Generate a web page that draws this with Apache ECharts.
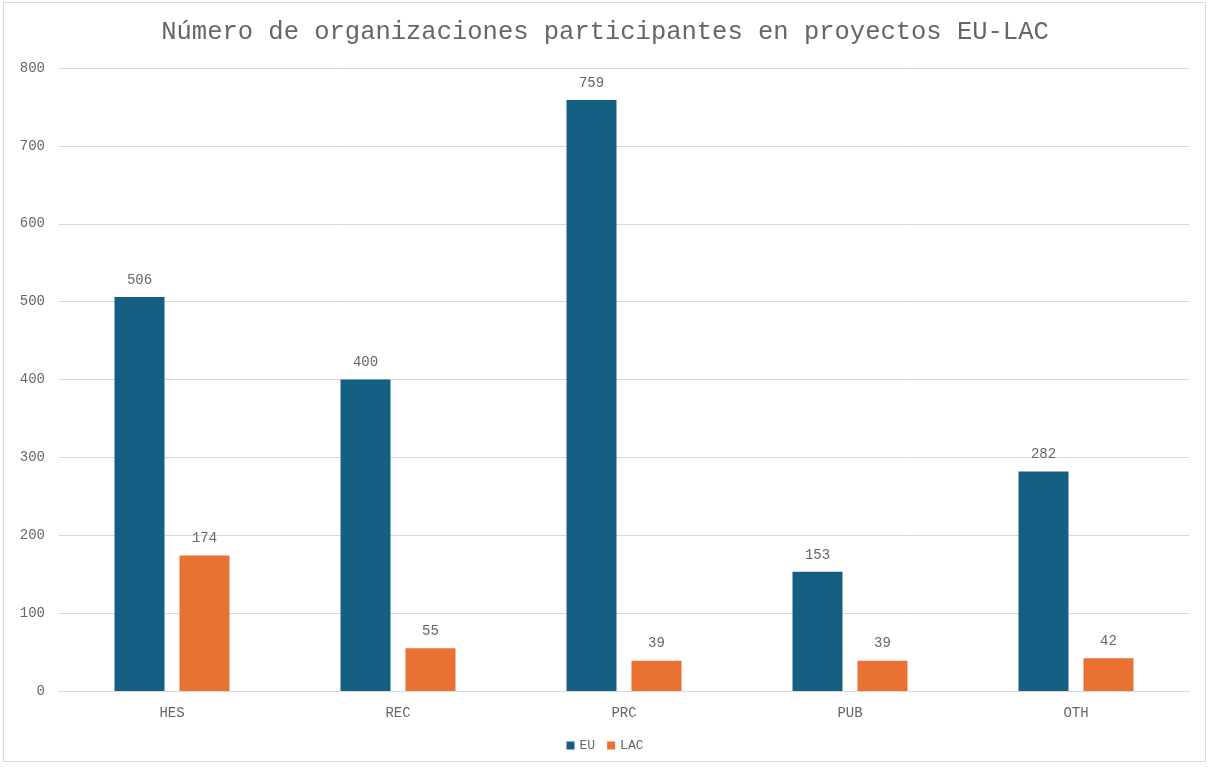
<!DOCTYPE html>
<html>
<head>
<meta charset="utf-8">
<script src="https://cdn.jsdelivr.net/npm/echarts@6/dist/echarts.min.js"></script>
<style>
  html, body { margin: 0; padding: 0; background: #fff; }
  #frame {
    position: absolute; left: 3px; top: 2px; width: 1203px; height: 760px;
    border: 1px solid #d9d9d9; box-sizing: border-box;
  }
  #chart { position: absolute; left: 0; top: 0; width: 1210px; height: 769px; }
</style>
</head>
<body>
<div id="frame"></div>
<div id="chart"></div>
<script>
// Organisation types and participant counts per region
const categories = ['HES', 'REC', 'PRC', 'PUB', 'OTH'];
const euValues = [506, 400, 759, 153, 282];
const lacValues = [174, 55, 39, 39, 42];
const seriesNames = ['EU', 'LAC'];

const FONT = '"Liberation Mono", "Courier New", monospace';
const TEXT = '#666666';

const chart = echarts.init(document.getElementById('chart'));
const labelStyle = {
  show: true, position: 'top', distance: 10,
  color: TEXT, fontFamily: FONT, fontSize: 14
};

chart.setOption({
  animation: false,
  title: {
    text: 'Número de organizaciones participantes en proyectos EU-LAC',
    left: 'center', top: 14,
    textStyle: { fontFamily: FONT, fontSize: 25.5, fontWeight: 'normal', color: TEXT }
  },
  legend: {
    data: seriesNames, bottom: 12, left: 'center',
    icon: 'rect', itemWidth: 8, itemHeight: 8, itemGap: 12,
    textStyle: { fontFamily: FONT, fontSize: 13, color: TEXT }
  },
  grid: { left: 59, right: 21, top: 68, bottom: 78, containLabel: false },
  xAxis: {
    type: 'category', data: categories,
    axisLine: { lineStyle: { color: '#d9d9d9' } },
    axisTick: { show: false },
    axisLabel: { fontFamily: FONT, fontSize: 14, color: TEXT, margin: 15 }
  },
  yAxis: {
    type: 'value', min: 0, max: 800, interval: 100,
    axisLine: { show: false }, axisTick: { show: false },
    splitLine: { lineStyle: { color: '#d9d9d9' } },
    axisLabel: { fontFamily: FONT, fontSize: 14, color: TEXT, margin: 14 }
  },
  series: [
    { name: 'EU', type: 'bar', data: euValues, barWidth: 50, barGap: '30%',
      itemStyle: { color: '#156082' }, label: labelStyle },
    { name: 'LAC', type: 'bar', data: lacValues, barWidth: 50,
      itemStyle: { color: '#E97132' }, label: labelStyle }
  ]
});
</script>
</body>
</html>
